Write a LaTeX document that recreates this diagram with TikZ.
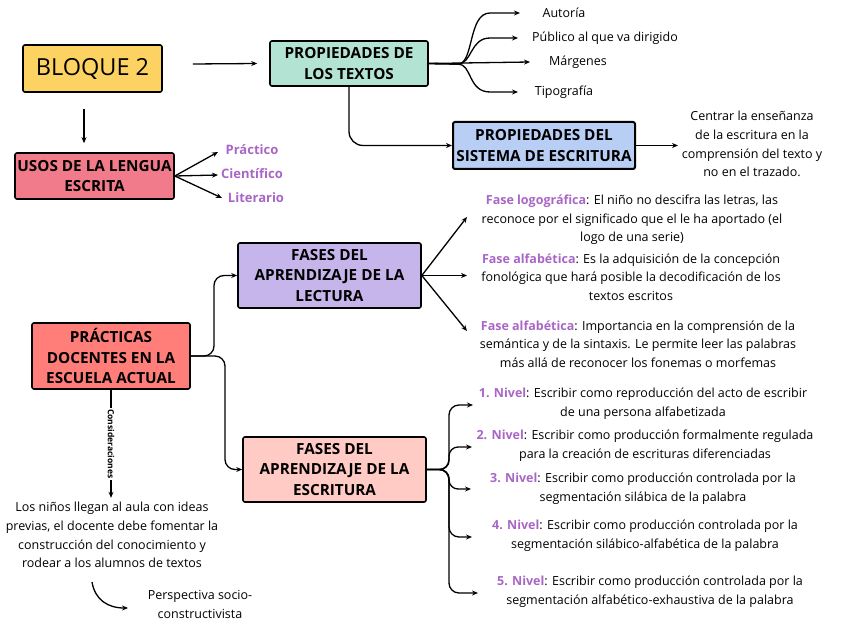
\documentclass[tikz,border=0pt]{standalone}
\usepackage{fontspec}
\setmainfont{Open Sans}
\usetikzlibrary{arrows.meta}
\definecolor{yel}{HTML}{FCD262}
\definecolor{mint}{HTML}{B3E3D3}
\definecolor{pinkr}{HTML}{F17B8B}
\definecolor{lblue}{HTML}{B8CEF5}
\definecolor{lav}{HTML}{C6B5EA}
\definecolor{coral}{HTML}{FF7E79}
\definecolor{lpink}{HTML}{FFCBC4}
\definecolor{pur}{HTML}{A866C6}
\newcommand{\pl}[1]{\textcolor{pur}{\textbf{#1}}}
\begin{document}
\begin{tikzpicture}[x=1pt,y=-1pt,
  box/.style={draw=black, line width=1.6pt, rounded corners=2pt, align=center, inner sep=0pt,
    font=\fontsize{15.3}{20.5}\selectfont\bfseries},
  txt/.style={align=center, inner sep=0pt, font=\fontsize{12.5}{18.7}\selectfont},
  plab/.style={inner sep=0pt, text=pur, font=\fontsize{13}{15}\selectfont\bfseries},
  arr/.style={line width=1.3pt, -{Stealth[length=6pt,width=5pt]}},
  ln/.style={line width=1.3pt}]
\useasboundingbox (0,0) rectangle (848,636);
% boxes
\node[box, fill=yel, minimum width=139, minimum height=47, font=\fontsize{23.5}{26}\selectfont] (bloque) at (92.5,68.5) {BLOQUE 2};
\node[box, fill=mint, minimum width=158, minimum height=45] (proptext) at (349,63.5) {PROPIEDADES DE\\LOS TEXTOS};
\node[box, fill=pinkr, minimum width=159, minimum height=46] (usos) at (94.5,176) {USOS DE LA LENGUA\\ESCRITA};
\node[box, fill=lblue, minimum width=182, minimum height=47, line width=2pt] (sistema) at (544,145.5) {PROPIEDADES DEL\\SISTEMA DE ESCRITURA};
\node[box, fill=lav, minimum width=183, minimum height=65] (lect) at (329.5,275.5) {FASES DEL\\APRENDIZAJE DE LA\\LECTURA};
\node[box, fill=coral, minimum width=158, minimum height=66] (prac) at (111,356) {PRÁCTICAS\\DOCENTES EN LA\\ESCUELA ACTUAL};
\node[box, fill=lpink, minimum width=183, minimum height=65] (escr) at (334.5,469.5) {FASES DEL\\APRENDIZAJE DE LA\\ESCRITURA};
% labels
\node[txt] (autoria) at (564,13) {Autoría};
\node[txt] (publico) at (605,38) {Público al que va dirigido};
\node[txt] (margenes) at (578,62) {Márgenes};
\node[txt] (tipografia) at (564,92) {Tipografía};
\node[plab] (practico) at (252,150) {Práctico};
\node[plab] (cientifico) at (252,174) {Científico};
\node[plab] (literario) at (256,198) {Literario};
\node[txt] (centrar) at (752,144) {Centrar la enseñanza\\de la escritura en la\\comprensión del texto y\\no en el trazado.};
\node[txt] (fase1) at (632,220) {\pl{Fase logográfica}: El niño no descifra las letras, las\\reconoce por el significado que el le ha aportado (el\\logo de una serie)};
\node[txt] (fase2) at (631,277) {\pl{Fase alfabética}: Es la adquisición de la concepción\\fonológica que hará posible la decodificación de los\\textos escritos};
\node[txt] (fase3) at (638,344) {\pl{Fase alfabética}: Importancia en la comprensión de la\\semántica y de la sintaxis. Le permite leer las palabras\\más allá de reconocer los fonemas o morfemas};
\node[txt] (n1) at (643,404) {\pl{1. Nivel}: Escribir como reproducción del acto de escribir\\de una persona alfabetizada};
\node[txt] (n2) at (645,446) {\pl{2. Nivel}: Escribir como producción formalmente regulada\\para la creación de escrituras diferenciadas};
\node[txt] (n3) at (643,488.5) {\pl{3. Nivel}: Escribir como producción controlada por la\\segmentación silábica de la palabra};
\node[txt] (n4) at (645,535.5) {\pl{4. Nivel}: Escribir como producción controlada por la\\segmentación silábico-alfabética de la palabra};
\node[txt] (n5) at (650,592) {\pl{5. Nivel}: Escribir como producción controlada por la\\segmentación alfabético-exhaustiva de la palabra};
\node[txt] (ninos) at (112,535) {Los niños llegan al aula con ideas\\previas, el docente debe fomentar la\\construcción del conocimiento y\\rodear a los alumnos de textos};
\node[txt] (persp) at (200,604.5) {Perspectiva socio-\\constructivista};
% coordinates
\coordinate (a1) at (520,13);
\coordinate (a2) at (518,38);
\coordinate (a3) at (530,62);
\coordinate (a4) at (518,92);
\coordinate (u1) at (218,152);
\coordinate (u2) at (218,175);
\coordinate (u3) at (222,198);
\coordinate (c1) at (678,145.5);
\coordinate (l1) at (467,217);
\coordinate (l2) at (467,275.5);
\coordinate (l3) at (467,331);
\coordinate (e1) at (473,405);
\coordinate (e2) at (472,447);
\coordinate (e3) at (471,489);
\coordinate (e4) at (472,537);
\coordinate (e5) at (478,593);
\coordinate (cv1) at (92,582);
\coordinate (cv2) at (128,608);
% connectors
\draw[arr] ([xshift=30pt,yshift=4.5pt]bloque.east) -- ([xshift=-12pt]proptext.west);
\draw[arr] ([xshift=-8.5pt,yshift=-16pt]bloque.south) -- ([xshift=-10.5pt,yshift=9pt]usos.north);
\draw[arr] (usos.east) -- (u1);
\draw[arr] (usos.east) -- (u2);
\draw[arr] (usos.east) -- (u3);
\draw[arr] (proptext.east) -- (458,64) .. controls (474,64) and (468,13) .. (490,13) -- (a1);
\draw[arr] (proptext.east) -- (458,64) .. controls (472,64) and (470,38) .. (490,38) -- (a2);
\draw[arr] (proptext.east) -- (a3);
\draw[arr] (proptext.east) -- (458,64) .. controls (472,64) and (468,92) .. (490,92) -- (a4);
\draw[arr, rounded corners=14pt] (proptext.south) -- (349,145.5) -- (sistema.west);
\draw[arr] (sistema.east) -- (c1);
\draw[arr] (lect.east) -- (l1);
\draw[arr] (lect.east) -- (l2);
\draw[arr] (lect.east) -- (l3);
\draw[arr, rounded corners=10pt] (prac.east) -- (214,356) -- (214,275.5) -- (lect.west);
\draw[arr, rounded corners=10pt] (prac.east) -- (225,356) -- (225,469.5) -- (escr.west);
\draw[arr, rounded corners=10pt] (escr.east) -- (449,469.5) -- (449,405) -- (e1);
\draw[arr, rounded corners=9pt] (escr.east) -- (449,469.5) -- (449,447) -- (e2);
\draw[arr, rounded corners=9pt] (escr.east) -- (449,469.5) -- (449,489) -- (e3);
\draw[arr, rounded corners=10pt] (escr.east) -- (449,469.5) -- (449,537) -- (e4);
\draw[arr, rounded corners=10pt] (escr.east) -- (449,469.5) -- (449,593) -- (e5);
\draw[arr] (prac.south) -- ([yshift=-108pt]prac.south)
  node[pos=0.5, fill=white, rotate=-90, inner sep=1.5pt, font=\fontsize{8.5}{9}\selectfont\bfseries] (consid) {Consideraciones};
\draw[arr] (cv1) .. controls (95,600) and (108,608) .. (cv2);
\end{tikzpicture}
\end{document}
